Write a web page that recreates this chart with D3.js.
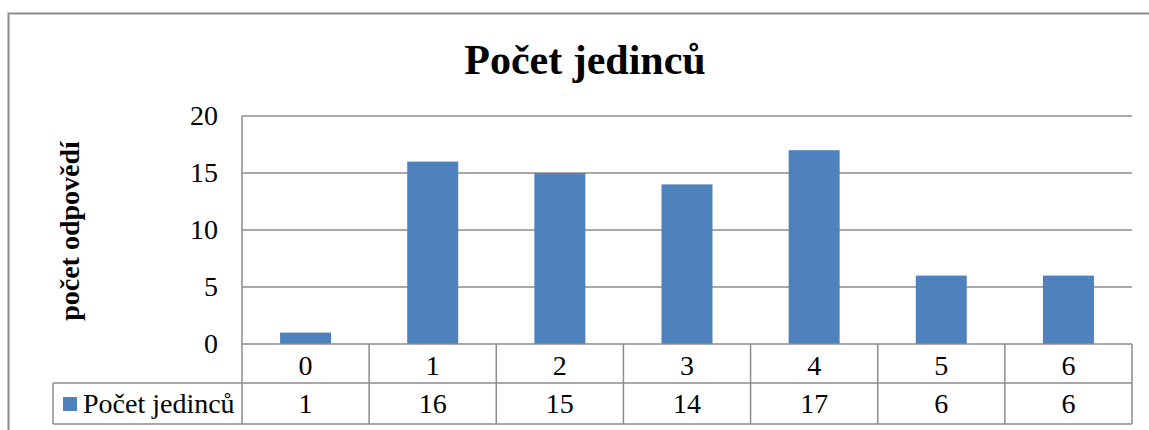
<!DOCTYPE html>
<html>
<head>
<meta charset="utf-8">
<script src="https://cdn.jsdelivr.net/npm/d3@7"></script>
<style>
  body { margin: 0; background: #fff; }
  svg { display: block; font-family: "Liberation Serif", "Times New Roman", serif; }
</style>
</head>
<body>
<div id="chart"></div>
<script>
var categories = ["0", "1", "2", "3", "4", "5", "6"];
var values = [1, 16, 15, 14, 17, 6, 6];
var yTicks = [0, 5, 10, 15, 20];
var seriesName = "Počet jedinců";
var chartTitle = "Počet jedinců";
var yTitle = "počet odpovědí";

var width = 1149, height = 430;
var plotLeft = 242, plotRight = 1132, plotTop = 116, plotBottom = 344;
var row1 = 383, row2 = 424, legendLeft = 53;
var grid = "#8c8c8c";
var barColor = "#4f81bd";

var svg = d3.select("#chart")
  .append("svg")
  .attr("width", width)
  .attr("height", height);

// outer frame (cut off at right and bottom)
svg.append("path")
  .attr("d", "M8.5," + (height + 2) + "V13.5H" + (width + 2))
  .attr("fill", "none")
  .attr("stroke", grid)
  .attr("stroke-width", 2);

var xCell = d3.scaleBand()
  .domain(categories)
  .range([plotLeft, plotRight]);

var y = d3.scaleLinear()
  .domain([0, 20])
  .range([plotBottom, plotTop]);

// gridlines
svg.append("g")
  .selectAll("line")
  .data(yTicks.slice(1))
  .enter()
  .append("line")
  .attr("x1", plotLeft)
  .attr("x2", plotRight)
  .attr("y1", d => y(d))
  .attr("y2", d => y(d))
  .attr("stroke", grid)
  .attr("stroke-width", 1.5);

// tick labels
svg.append("g")
  .selectAll("text")
  .data(yTicks)
  .enter()
  .append("text")
  .attr("x", 218)
  .attr("y", d => y(d) + 9)
  .attr("text-anchor", "end")
  .attr("font-size", 28)
  .text(d => d);

// bars
svg.append("g")
  .selectAll("rect")
  .data(values)
  .enter()
  .append("rect")
  .attr("x", (d, i) => xCell(categories[i]) + xCell.bandwidth() / 2 - 25.5)
  .attr("width", 51)
  .attr("y", d => y(d))
  .attr("height", d => plotBottom - y(d))
  .attr("fill", barColor);

// data table
var table = svg.append("g")
  .attr("stroke", grid)
  .attr("stroke-width", 1.5);

table.append("line")
  .attr("x1", plotLeft).attr("x2", plotRight)
  .attr("y1", plotBottom).attr("y2", plotBottom);
table.append("line")
  .attr("x1", legendLeft).attr("x2", plotRight)
  .attr("y1", row1).attr("y2", row1);
table.append("line")
  .attr("x1", legendLeft).attr("x2", plotRight)
  .attr("y1", row2).attr("y2", row2);
table.append("line")
  .attr("x1", legendLeft).attr("x2", legendLeft)
  .attr("y1", row1).attr("y2", row2);
table.append("line")
  .attr("x1", plotLeft).attr("x2", plotLeft)
  .attr("y1", plotTop).attr("y2", row2);

table.selectAll(".sep")
  .data(categories)
  .enter()
  .append("line")
  .attr("x1", d => xCell(d) + xCell.bandwidth())
  .attr("x2", d => xCell(d) + xCell.bandwidth())
  .attr("y1", plotBottom)
  .attr("y2", row2);

svg.append("g")
  .selectAll("text")
  .data(categories)
  .enter()
  .append("text")
  .attr("x", d => xCell(d) + xCell.bandwidth() / 2)
  .attr("y", 375)
  .attr("text-anchor", "middle")
  .attr("font-size", 28)
  .text(d => d);

svg.append("g")
  .selectAll("text")
  .data(values)
  .enter()
  .append("text")
  .attr("x", (d, i) => xCell(categories[i]) + xCell.bandwidth() / 2)
  .attr("y", 413)
  .attr("text-anchor", "middle")
  .attr("font-size", 28)
  .text(d => d);

// legend key inside table
svg.append("rect")
  .attr("x", 63)
  .attr("y", 397)
  .attr("width", 14)
  .attr("height", 14)
  .attr("fill", barColor);
svg.append("text")
  .attr("x", 83)
  .attr("y", 413)
  .attr("font-size", 28)
  .text(seriesName);

// title
svg.append("text")
  .attr("x", 585)
  .attr("y", 74)
  .attr("text-anchor", "middle")
  .attr("font-size", 42)
  .attr("font-weight", "bold")
  .text(chartTitle);

// y axis title
svg.append("text")
  .attr("transform", "translate(79,231) rotate(-90)")
  .attr("text-anchor", "middle")
  .attr("font-size", 28)
  .attr("font-weight", "bold")
  .text(yTitle);
</script>
</body>
</html>
